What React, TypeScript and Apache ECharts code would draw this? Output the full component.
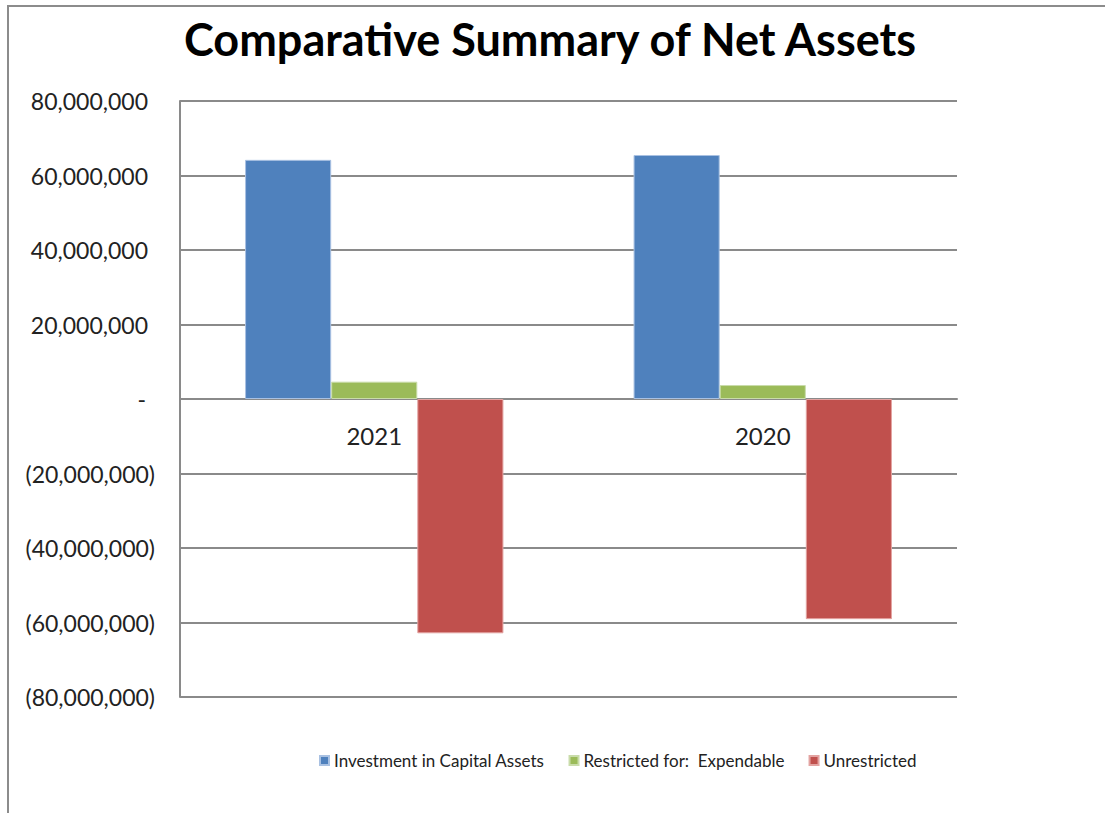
import React, { useEffect, useRef } from "react";
import * as echarts from "echarts";

const categories = ["2021", "2020"];
const investmentInCapitalAssets = [64200000, 65500000];
const restrictedExpendable = [4650000, 3750000];
const unrestricted = [-62900000, -59100000];
const seriesNames = ["Investment in Capital Assets", "Restricted for:  Expendable", "Unrestricted"];
const colors = ["#4F81BD", "#9BBB59", "#C0504D"];

const FONT = "Lato";

function fmt(v: number): string {
  if (v === 0) return "{z|-}";
  const s = Math.abs(v).toLocaleString("en-US");
  if (v < 0) return "{n|(" + s + ")}";
  return "{n|" + s + "}{s| }";
}

export default function App() {
  const ref = useRef<HTMLDivElement>(null);
  useEffect(() => {
    if (!ref.current) return;
    const chart = echarts.init(ref.current, undefined, { renderer: "svg" });
    const gridColor = "#8a8a8a";
    chart.setOption({
      animation: false,
      backgroundColor: "#ffffff",
      title: {
        text: "Comparative Summary of Net Assets",
        left: 545,
        textAlign: "center",
        top: 11,
        textStyle: { fontFamily: FONT, fontWeight: "bold", fontSize: 45, color: "#000" },
      },
      graphic: [
        {
          type: "rect",
          shape: { x: 8, y: 6, width: 1300, height: 1000 },
          style: { fill: "none", stroke: "#8c8c8c", lineWidth: 2 },
          silent: true,
        },
      ],
      legend: {
        left: 314,
        top: 747,
        itemWidth: 9,
        itemHeight: 9,
        itemGap: 24,
        icon: "rect",
        textStyle: { fontFamily: FONT, fontSize: 17, color: "#222" },
        data: seriesNames,
      },
      grid: { left: 180, right: 148, top: 101, bottom: 116, containLabel: false },
      xAxis: {
        type: "category",
        data: categories,
        offset: -298,
        axisLine: { show: true, onZero: false, lineStyle: { color: gridColor, width: 2 } },
        axisTick: { show: false },
        axisLabel: { margin: 24, fontFamily: FONT, fontSize: 24, color: "#222" },
      },
      yAxis: {
        type: "value",
        min: -80000000,
        max: 80000000,
        interval: 20000000,
        axisLine: { show: true, lineStyle: { color: gridColor, width: 2 } },
        axisTick: { show: false },
        splitLine: { show: true, lineStyle: { color: gridColor, width: 2 } },
        axisLabel: {
          margin: 25,
          formatter: (v: number) => fmt(v),
          rich: {
            n: { fontFamily: FONT, fontSize: 23, color: "#222" },
            s: { fontFamily: FONT, fontSize: 23, width: 7 },
            z: { fontFamily: FONT, fontSize: 23, color: "#222", padding: [0, 9, 0, 0] },
          },
        },
      },
      series: [
        {
          name: seriesNames[0],
          type: "bar",
          data: investmentInCapitalAssets,
          itemStyle: { color: colors[0], borderColor: "#a9c1e2", borderWidth: 1 },
          barGap: "0%",
          barCategoryGap: "33.5%",
        },
        {
          name: seriesNames[1],
          type: "bar",
          data: restrictedExpendable,
          itemStyle: { color: colors[1], borderColor: "#c9dcaa", borderWidth: 1 },
          barGap: "0%",
          barCategoryGap: "33.5%",
        },
        {
          name: seriesNames[2],
          type: "bar",
          data: unrestricted,
          itemStyle: { color: colors[2], borderColor: "#e3a3a1", borderWidth: 1 },
          barGap: "0%",
          barCategoryGap: "33.5%",
        },
      ],
    });
    return () => chart.dispose();
  }, []);
  return (
    <div
      ref={ref}
      style={{ position: "absolute", left: 0, top: 0, width: 1105, height: 813 }}
    />
  );
}
